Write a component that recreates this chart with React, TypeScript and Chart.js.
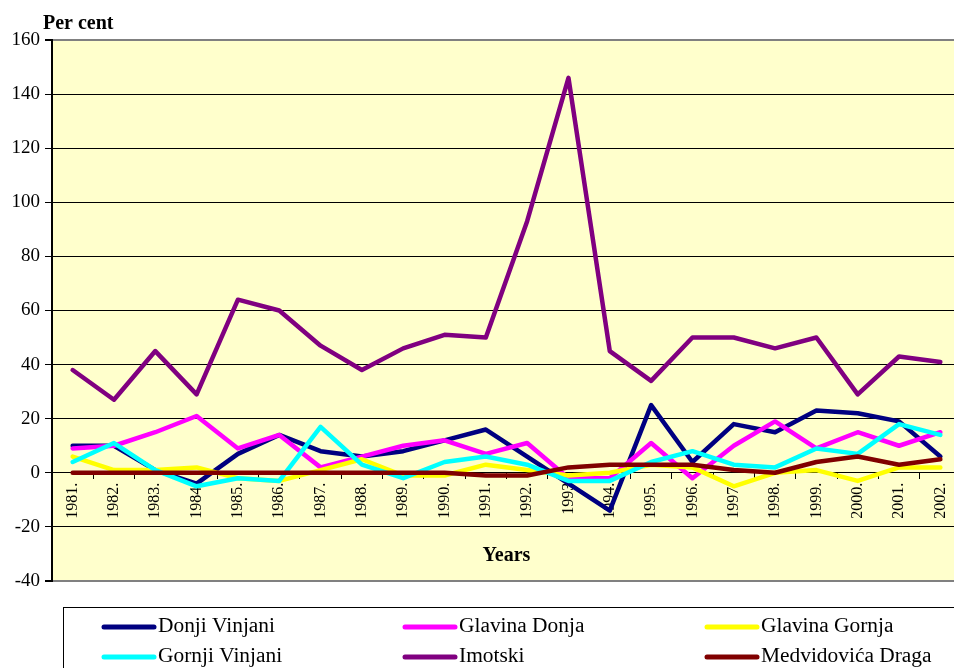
import React, { useEffect, useRef } from "react";
import { Chart, registerables } from "chart.js";

Chart.register(...registerables);

// Year labels on the category axis
const years = [
  "1981.", "1982.", "1983.", "1984.", "1985.", "1986.", "1987.", "1988.",
  "1989.", "1990.", "1991.", "1992.", "1993", "1994.", "1995.", "1996.",
  "1997.", "1998.", "1999.", "2000.", "2001.", "2002.",
];

// Annual change, per cent
const donjiVinjani = [10, 10, 1, -4, 7, 14, 8, 6, 8, 12, 16, 6, -4, -14, 25, 4, 18, 15, 23, 22, 19, 6];
const glavinaDonja = [9, 10, 15, 21, 9, 14, 2, 6, 10, 12, 7, 11, -2, -2, 11, -2, 10, 19, 9, 15, 10, 15];
const glavinaGornja = [6, 1, 1, 2, -2, -3, 1, 5, -1, -1, 3, 1, -1, 0, 3, 2, -5, 0, 1, -3, 2, 2];
const gornjiVinjani = [4, 11, 1, -5, -2, -3, 17, 3, -2, 4, 6, 3, -3, -3, 4, 8, 3, 2, 9, 7, 18, 14];
const imotski = [38, 27, 45, 29, 64, 60, 47, 38, 46, 51, 50, 93, 146, 45, 34, 50, 50, 46, 50, 29, 43, 41];
const medvidovicaDraga = [0, 0, 0, 0, 0, 0, 0, 0, 0, 0, -1, -1, 2, 3, 3, 3, 1, 0, 4, 6, 3, 5];

const seriesNames = [
  "Donji Vinjani", "Glavina Donja", "Glavina Gornja",
  "Gornji Vinjani", "Imotski", "Medvidovića Draga",
];
const seriesValues = [donjiVinjani, glavinaDonja, glavinaGornja, gornjiVinjani, imotski, medvidovicaDraga];
const seriesColors = ["#000080", "#FF00FF", "#FFFF00", "#00FFFF", "#800080", "#800000"];

// Y axis range
const yMin = -40;
const yMax = 160;
const yStep = 20;

const SERIF = "'Liberation Serif', 'Times New Roman', serif";

// Yellow plot background, "Per cent" caption and the three-column legend
const decorations = {
  id: "decorations",
  beforeDraw(chart: any) {
    const { ctx, chartArea: a } = chart;
    ctx.save();
    ctx.fillStyle = "#FFFFCC";
    ctx.fillRect(a.left, a.top, a.right - a.left, a.bottom - a.top);
    ctx.restore();
  },
  afterDraw(chart: any) {
    const { ctx, chartArea: a } = chart;
    ctx.save();
    // axis caption
    ctx.fillStyle = "#000";
    ctx.font = `bold 20px ${SERIF}`;
    ctx.textAlign = "left";
    ctx.textBaseline = "middle";
    ctx.fillText("Per cent", a.left - 9, a.top - 16);

    // legend frame
    ctx.strokeStyle = "#000";
    ctx.lineWidth = 1;
    ctx.fillStyle = "#fff";
    ctx.fillRect(63.5, 607.5, 1000, 100);
    ctx.strokeRect(63.5, 607.5, 1000, 100);

    const colX = [104, 405, 707];
    const rowY = [627, 657];
    chart.data.datasets.forEach((ds: any, i: number) => {
      const x = colX[i % 3];
      const y = rowY[Math.floor(i / 3)];
      ctx.strokeStyle = ds.borderColor;
      ctx.lineWidth = 5;
      ctx.lineCap = "round";
      ctx.beginPath();
      ctx.moveTo(x, y);
      ctx.lineTo(x + 50, y);
      ctx.stroke();
      ctx.save();
      ctx.translate(x + 54, y);
      ctx.scale(1.07, 1);
      ctx.fillStyle = "#000";
      ctx.font = `20px ${SERIF}`;
      ctx.textAlign = "left";
      ctx.textBaseline = "middle";
      ctx.fillText(ds.label, 0, 0);
      ctx.restore();
    });
    ctx.restore();
  },
};

export default function App() {
  const canvasRef = useRef<HTMLCanvasElement | null>(null);

  useEffect(() => {
    const canvas = canvasRef.current;
    if (!canvas) return;

    const datasets = seriesNames.map((name, i) => ({
      label: name,
      data: seriesValues[i],
      borderColor: seriesColors[i],
      backgroundColor: seriesColors[i],
      borderWidth: 4.5,
      pointRadius: 0,
      tension: 0,
      fill: false,
      borderJoinStyle: "round" as const,
      borderCapStyle: "round" as const,
      order: seriesNames.length - 1 - i,
    }));

    const chart = new Chart(canvas, {
      type: "line",
      data: { labels: years, datasets },
      plugins: [decorations],
      options: {
        animation: false,
        responsive: false,
        devicePixelRatio: 1,
        layout: { padding: { top: 40, left: 0, right: 3, bottom: 87 } },
        plugins: {
          legend: { display: false },
          tooltip: { enabled: false },
          title: { display: false },
        },
        scales: {
          x: {
            type: "category",
            position: { y: 0 } as any,
            offset: true,
            grid: {
              display: true,
              offset: true,
              drawOnChartArea: false,
              drawTicks: true,
              tickLength: 6,
              color: "#000",
            },
            border: { display: true, color: "#000", width: 1 },
            ticks: {
              autoSkip: false,
              minRotation: 90,
              maxRotation: 90,
              padding: 4,
              color: "#000",
              font: { family: SERIF, size: 16 },
            },
            title: {
              display: true,
              text: "Years",
              color: "#000",
              font: { family: SERIF, size: 20, weight: "bold" },
              padding: { top: 0, bottom: -15 },
            },
            afterFit(scale: any) {
              scale.height = 80;
            },
          },
          y: {
            min: yMin,
            max: yMax,
            grid: {
              color: (c: any) =>
                c.tick && (c.tick.value === yMax || c.tick.value === yMin) ? "#808080" : "#000",
              lineWidth: (c: any) =>
                c.tick && (c.tick.value === yMax || c.tick.value === yMin) ? 2 : 1,
              drawTicks: true,
              tickLength: 7,
              tickColor: "#000",
            },
            border: { display: true, color: "#000", width: 2 },
            ticks: {
              stepSize: yStep,
              padding: 5,
              color: "#000",
              font: { family: SERIF, size: 19 },
            },
            afterFit(scale: any) {
              scale.width = 52;
            },
          },
        },
      },
    });

    return () => chart.destroy();
  }, []);

  return (
    <div
      style={{
        position: "absolute",
        left: 0,
        top: 0,
        width: 954,
        height: 668,
        overflow: "hidden",
        background: "#fff",
      }}
    >
      <canvas ref={canvasRef} width={964} height={668} style={{ display: "block" }} />
    </div>
  );
}
